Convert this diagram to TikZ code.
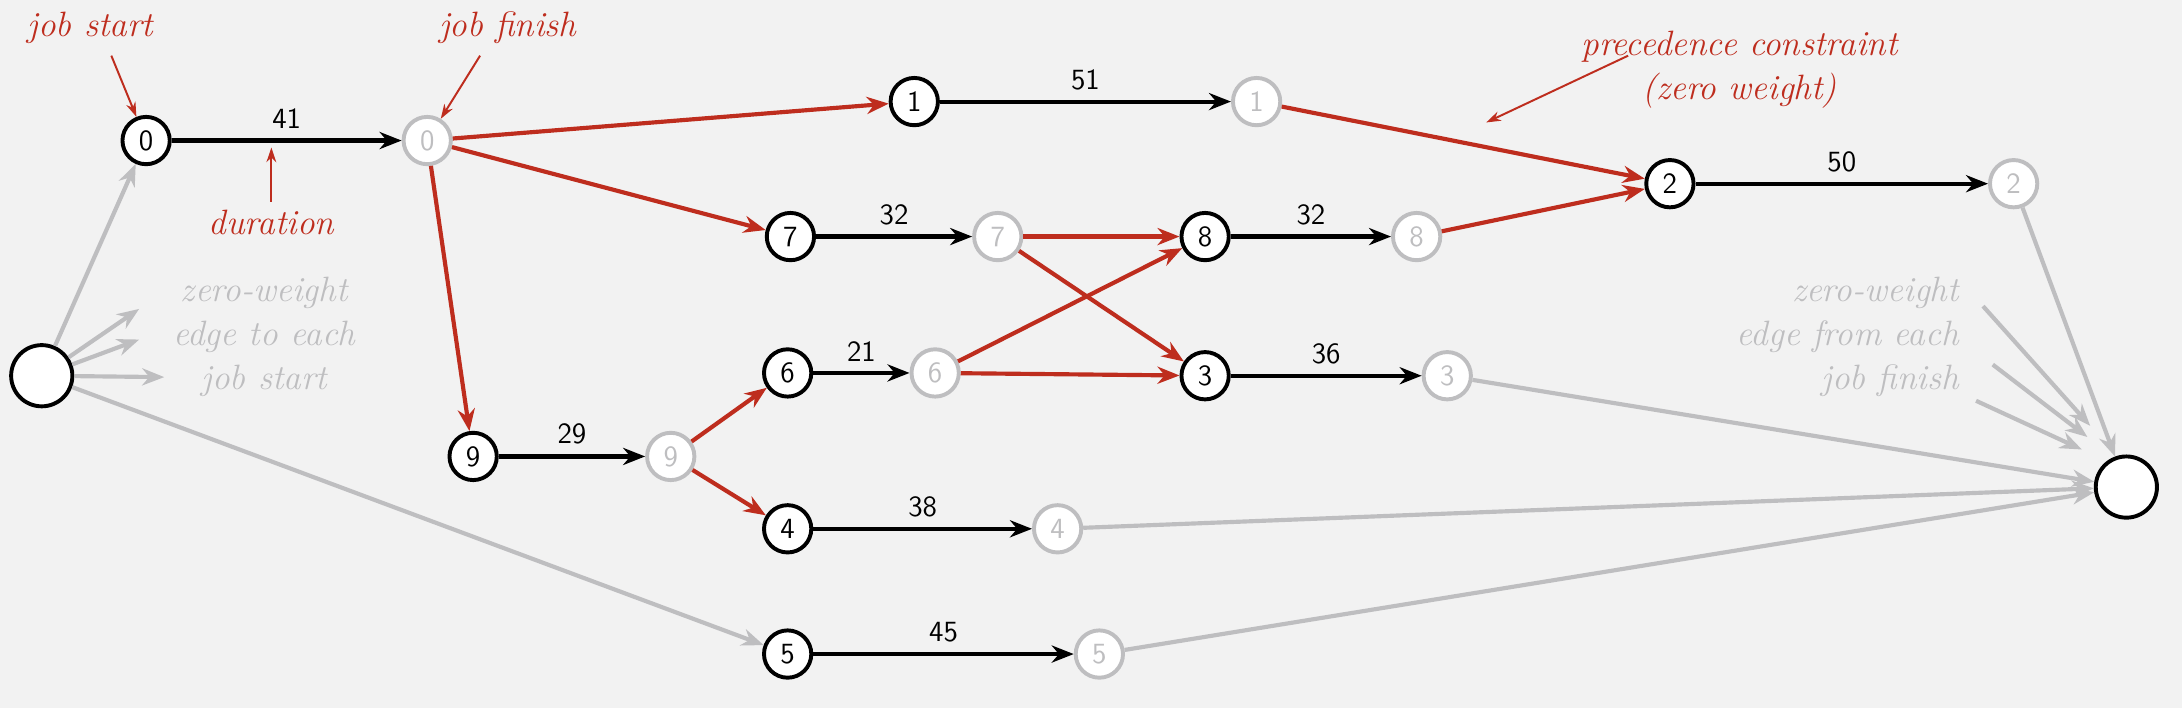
\documentclass[tikz,border=0pt]{standalone}
\usetikzlibrary{arrows.meta}
\definecolor{jobred}{RGB}{190,45,30}
\definecolor{jobgray}{RGB}{190,190,192}
\definecolor{bgc}{RGB}{242,242,242}
\tikzset{
  start/.style={circle, draw=black, fill=white, line width=1.6pt, minimum size=0.68cm, inner sep=0pt, font=\sffamily\large},
  finish/.style={circle, draw=jobgray, fill=white, text=jobgray, line width=1.6pt, minimum size=0.68cm, inner sep=0pt, font=\sffamily\large},
  endpt/.style={circle, draw=black, fill=white, line width=1.6pt, minimum size=0.88cm, inner sep=0pt},
  dur/.style={draw=black, line width=1.7pt, -{Stealth[length=9pt,width=7pt]}},
  prec/.style={draw=jobred, line width=1.7pt, -{Stealth[length=9pt,width=7pt]}},
  zero/.style={draw=jobgray, line width=1.7pt, -{Stealth[length=9pt,width=7pt]}},
  note/.style={draw=jobred, line width=0.8pt, -{Stealth[length=6pt,width=4pt]}},
  wlabel/.style={font=\sffamily\large, above, inner sep=4pt},
}
\begin{document}
\begin{tikzpicture}[x=0.02cm, y=-0.02cm]
  \fill[bgc] (0,0) rectangle (1568,508.8);
  \useasboundingbox (0,0) rectangle (1568,508.8);
  % source and sink
  \node[endpt] (src) at (30,270) {};
  \node[endpt] (snk) at (1528,350) {};
  % jobs: start and finish
  \node[start] (s0) at (105,101) {0};  \node[finish] (f0) at (307,101) {0};
  \node[start] (s1) at (657,73) {1};   \node[finish] (f1) at (903,73) {1};
  \node[start] (s2) at (1200,132) {2}; \node[finish] (f2) at (1447,132) {2};
  \node[start] (s7) at (568,170) {7};  \node[finish] (f7) at (717,170) {7};
  \node[start] (s8) at (866,170) {8};  \node[finish] (f8) at (1018,170) {8};
  \node[start] (s6) at (566,268) {6};  \node[finish] (f6) at (672,268) {6};
  \node[start] (s3) at (866,270) {3};  \node[finish] (f3) at (1040,270) {3};
  \node[start] (s9) at (340,328) {9};  \node[finish] (f9) at (482,328) {9};
  \node[start] (s4) at (566,380) {4};  \node[finish] (f4) at (760,380) {4};
  \node[start] (s5) at (566,470) {5};  \node[finish] (f5) at (790,470) {5};
  % durations
  \path[dur] (s0) -- node[wlabel] {41} (f0);
  \path[dur] (s1) -- node[wlabel] {51} (f1);
  \path[dur] (s2) -- node[wlabel] {50} (f2);
  \path[dur] (s7) -- node[wlabel] {32} (f7);
  \path[dur] (s8) -- node[wlabel] {32} (f8);
  \path[dur] (s6) -- node[wlabel] {21} (f6);
  \path[dur] (s3) -- node[wlabel] {36} (f3);
  \path[dur] (s9) -- node[wlabel] {29} (f9);
  \path[dur] (s4) -- node[wlabel] {38} (f4);
  \path[dur] (s5) -- node[wlabel] {45} (f5);
  % precedence constraints
  \path[prec] (f0) -- (s1);
  \path[prec] (f0) -- (s7);
  \path[prec] (f0) -- (s9);
  \path[prec] (f1) -- (s2);
  \path[prec] (f8) -- (s2);
  \path[prec] (f7) -- (s8);
  \path[prec] (f7) -- (s3);
  \path[prec] (f6) -- (s8);
  \path[prec] (f6) -- (s3);
  \path[prec] (f9) -- (s6);
  \path[prec] (f9) -- (s4);
  % zero-weight edges
  \path[zero] (src) -- (s0);
  \path[zero] (src) -- (s5);
  \coordinate (za) at (100,222);
  \coordinate (zb) at (100,244);
  \coordinate (zc) at (118,271);
  \path[zero] (src) -- (za);
  \path[zero] (src) -- (zb);
  \path[zero] (src) -- (zc);
  \path[zero] (f2) -- (snk);
  \path[zero] (f3) -- (snk);
  \path[zero] (f4) -- (snk);
  \path[zero] (f5) -- (snk);
  \coordinate (ya) at (1425,220);
  \coordinate (yb) at (1432,262);
  \coordinate (yc) at (1420,288);
  \coordinate (xa) at (1502,306);
  \coordinate (xb) at (1500,314);
  \coordinate (xc) at (1496,323);
  \path[zero] (ya) -- (xa);
  \path[zero] (yb) -- (xb);
  \path[zero] (yc) -- (xc);
  % annotations
  \node[text=jobred, font=\itshape\Large] (tstart) at (65,20) {job start};
  \node[text=jobred, font=\itshape\Large] (tfinish) at (365,20) {job finish};
  \node[text=jobred, font=\itshape\Large] (tdur) at (195,160) {duration};
  \node[text=jobred, font=\itshape\Large, align=center] (tprec) at (1250,50) {precedence constraint\\(zero weight)};
  \coordinate (pend) at (1068,88);
  \coordinate (dend) at (195,106);
  \path[note] (80,40) -- (s0);
  \path[note] (345,40) -- (f0);
  \path[note] (tdur) -- (dend);
  \path[note] (1170,40) -- (pend);
  \node[text=jobgray, font=\itshape\Large, align=center, inner sep=0pt] (tsrc) at (190,242) {zero-weight\\edge to each\\job start};
  \node[text=jobgray, font=\itshape\Large, align=right, anchor=east, inner sep=0pt] (tsnk) at (1408,242) {zero-weight\\edge from each\\job finish};
\end{tikzpicture}
\end{document}
